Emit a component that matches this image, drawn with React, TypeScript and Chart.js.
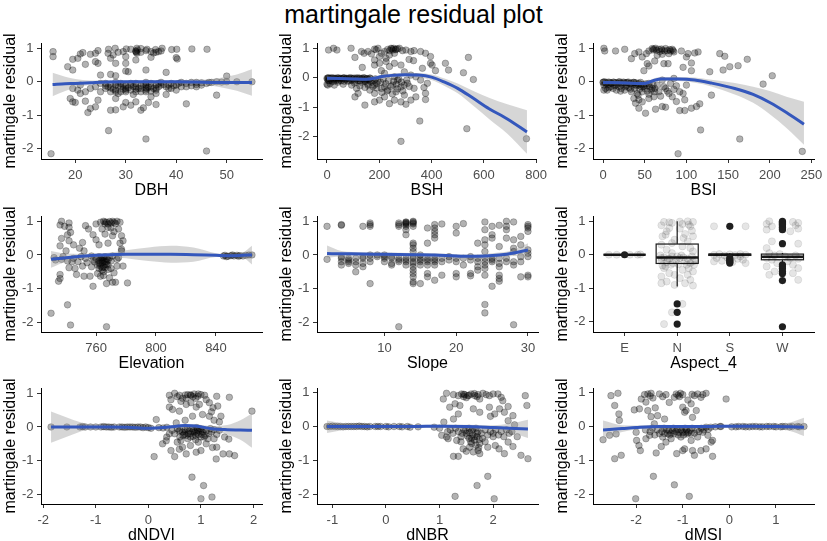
import React, { useEffect, useRef } from 'react';
import { Chart, registerables } from 'chart.js';

Chart.register(...registerables);

const FONT = '"Liberation Sans", Arial, Helvetica, sans-serif';
Chart.defaults.font.family = FONT;

type Pt = [number, number];
type Fit = [number, number, number, number]; // x, fit, lower, upper

const chartTitle = 'martingale residual plot';
const yTitle = 'martingale residual';
const yTicks = [-2, -1, 0, 1];

// ---------------- DBH ----------------
const dbhTicks = [20, 30, 40, 50];
const dbhPoints: Pt[] = [
  [15.6, 0.9], [15.6, 0.75], [15.2, -2.15],
  [26.6, 0.97], [27.9, 1.0], [30.1, 0.98], [31, 0.97], [32.2, 1.0], [33, 0.99], [34.2, 0.97], [35.9, 0.96], [37.2, 1.0], [39.1, 0.96], [40.1, 0.97], [43.1, 0.98], [46.1, 0.97],
  [21, 0.83], [21.5, 0.87], [23, 0.82], [24, 0.85], [24.5, 0.93], [26.5, 0.85], [27.5, 0.8], [28.5, 0.88], [32, 0.9], [32.2, 0.85], [33, 0.88], [35.5, 0.86], [36.5, 0.9], [34, 0.93], [29.5, 0.9], [37, 0.92],
  [32, 0.92], [32.1, 0.88], [32.3, 0.95], [36, 0.88], [35, 0.9],
  [19.5, 0.67], [20.5, 0.7], [24, 0.6], [27, 0.7], [28, 0.55], [30, 0.75], [32, 0.65], [35, 0.73], [40, 0.72], [40.2, 0.68], [24.5, 0.55], [30, 0.55],
  [18.5, 0.45], [19.5, 0.35], [22, 0.52], [25, 0.2], [27, 0.22], [28, 0.18], [30, 0.32], [30.5, 0.3], [34, 0.35], [38, 0.28], [50, 0.17],
  [19.5, -0.2], [20.5, -0.25], [21, -0.1], [22, -0.3], [23, -0.2], [24, -0.15], [25, -0.3], [26, -0.12], [26, -0.05], [27, -0.18], [27, -0.3], [28, -0.1], [28, -0.25], [28.5, -0.35], [29, -0.15], [29, -0.05], [30, -0.2], [30, -0.3], [31, -0.1], [31, -0.25], [31.5, -0.38], [32, -0.15], [32, -0.05], [33, -0.2], [33, -0.3], [34, -0.1], [34, -0.02], [34, -0.25], [35, -0.15], [35, -0.05], [36, -0.2], [36, -0.35], [37, -0.1], [37, -0.02], [38, -0.15], [38, -0.38], [39, -0.05], [39, -0.2], [40, -0.1], [41, -0.15], [41, -0.02], [42, -0.05], [43, -0.12], [43, -0.02], [44, -0.08], [45, -0.03], [46, -0.05], [47, -0.02], [48, 0], [52, 0], [55, 0], [44, -0.15], [40, -0.25], [36, -0.1], [33, -0.12], [30, -0.12], [29, -0.3], [27, -0.08], [26, -0.2], [25, -0.05], [32, -0.22], [34, -0.18], [35, -0.28], [36.5, -0.05], [38.5, -0.1], [31, -0.05], [29.5, -0.22], [28, -0.02], [42, -0.15], [45, -0.1],
  [26.5, -0.15], [27.5, -0.22], [28.5, -0.12], [29.5, -0.1], [30.5, -0.18], [31.5, -0.14], [32.5, -0.2], [33.5, -0.08], [34.5, -0.16], [35.5, -0.2], [36.5, -0.15], [37.5, -0.08], [38.5, -0.2], [39.5, -0.12], [34, -0.3], [34.2, -0.2], [30, -0.25], [32, -0.3], [28, -0.3], [36, -0.25], [40.5, -0.05], [44, -0.02], [46.5, -0.02], [49, -0.01], [50, 0],
  [19, -0.5], [19.5, -0.6], [20, -0.62], [21, -0.35], [22, -0.58], [22.5, -0.92], [24, -0.75], [24.5, -0.55], [23, -0.8], [27, -0.85], [28, -0.84], [28, -0.5], [29.5, -0.75], [30, -0.62], [31, -0.7], [32, -0.6], [33, -0.85], [33.5, -0.78], [34.5, -0.62], [35, -0.45], [36, -0.68], [42, -0.66], [48, -0.4], [26.6, -1.46], [34, -1.71], [46, -2.07],
];
const dbhSmooth: Fit[] = [
  [15.5, -0.08, -0.43, 0.27], [18, -0.06, -0.28, 0.15], [20, -0.05, -0.18, 0.08], [23, -0.03, -0.1, 0.04], [26, -0.01, -0.06, 0.04], [30, 0.0, -0.04, 0.04], [35, 0.0, -0.04, 0.04], [40, 0.0, -0.04, 0.04], [44, -0.01, -0.07, 0.05], [48, -0.02, -0.14, 0.1], [52, -0.02, -0.27, 0.22], [55, -0.02, -0.42, 0.37],
];

// ---------------- BSH ----------------
const bshTicks = [0, 200, 400, 600, 800];
const bshPoints: Pt[] = [
  [0, -0.02], [2, -0.05], [5, 0], [8, -0.1], [10, -0.03], [12, -0.2], [15, -0.05], [18, 0], [20, -0.12], [25, -0.04], [28, -0.25], [30, -0.02], [35, -0.08], [40, 0], [42, -0.15], [45, -0.05], [50, -0.02], [55, -0.1], [60, -0.03], [62, -0.22], [65, 0], [70, -0.06], [75, -0.02], [80, -0.12], [85, -0.04], [90, 0], [95, -0.08], [100, -0.03], [105, -0.18], [110, -0.05], [115, 0], [120, -0.1], [125, -0.03], [130, -0.15], [135, -0.05], [140, 0], [145, -0.12], [150, -0.04], [155, -0.2], [160, -0.06], [165, -0.02], [170, -0.15], [175, -0.3], [180, -0.1], [185, -0.04], [190, -0.2], [3, -0.25], [0, -0.22],
  [4, -0.01], [14, -0.02], [24, -0.01], [34, -0.03], [44, -0.01], [54, -0.02], [64, -0.01], [74, -0.03], [84, -0.01], [94, -0.02], [104, -0.01], [114, -0.03], [124, -0.01], [134, -0.02], [144, -0.01], [154, -0.03], [164, -0.01], [6, -0.1], [26, -0.12], [46, -0.1], [66, -0.12], [86, -0.1], [106, -0.12], [126, -0.1], [146, -0.12], [166, -0.1],
  [6, 0.94], [25, 1.0], [38, 0.94], [92, 1.0], [107, 0.69], [132, 0.89], [135, 0.35], [142, 0.83], [157, 0.89], [170, 0.81], [182, 0.97], [188, 0.95], [195, 1.0], [208, 0.83], [201, 0.72], [220, 0.89], [226, 0.66], [239, 0.77], [245, 1.0], [252, 0.94], [258, 0.83], [264, 0.97], [277, 1.0], [289, 0.92], [302, 0.94], [321, 0.89], [333, 0.92], [358, 0.89], [377, 0.83], [396, 0.72], [331, 0.58], [365, 0.32], [396, 0.49], [402, 0.43], [415, 0.24], [453, 0.49], [465, 0.26], [522, 0.17], [541, 0.69], [560, -0.06], [226, 0.55], [182, 0.6], [201, 0.49], [258, 0.49], [283, 0.43], [314, 0.62], [182, 0.43], [208, 0.24], [220, 0.15], [239, 0.38], [258, 0.03], [270, -0.08], [296, 0.2], [321, 0.09], [340, 0.03], [358, -0.08], [384, -0.19],
  [248, 0.98], [255, 1.0], [262, 0.95], [270, 0.98], [240, 0.92], [232, 0.96],
  [145, -0.93], [182, -0.82], [201, -0.76], [220, -0.65], [239, -0.88], [258, -0.76], [283, -0.82], [302, -0.9], [321, -0.76], [340, -0.65], [377, -0.74], [377, -0.53], [371, -0.33], [296, -0.59], [264, -0.48], [233, -0.42], [208, -0.36], [182, -0.53], [164, -0.42], [145, -0.33], [119, -0.53], [107, -0.65], [157, -0.25], [182, -0.25], [220, -0.31], [252, -0.25], [283, -0.31], [308, -0.19], [333, -0.36], [145, -0.08], [126, -0.28], [113, -0.36], [94, -0.25], [535, -1.73], [763, -2.07], [355, -1.47], [283, -2.16],
  [205, -0.15], [215, -0.05], [225, -0.2], [235, -0.1], [245, -0.3], [255, -0.12], [265, -0.22], [275, -0.05], [285, -0.15], [295, -0.25], [305, -0.08], [315, -0.3], [230, -0.45], [250, -0.55], [270, -0.38], [290, -0.45], [210, -0.5], [195, -0.12], [190, -0.35],
];
const bshSmooth: Fit[] = [
  [0, -0.02, -0.09, 0.05], [50, -0.03, -0.08, 0.02], [100, -0.04, -0.09, 0.01], [150, -0.05, -0.1, 0.0], [180, -0.02, -0.08, 0.04], [210, 0.04, -0.02, 0.1], [250, 0.08, 0.02, 0.14], [300, 0.1, 0.04, 0.16], [350, 0.09, 0.01, 0.16], [400, 0.02, -0.08, 0.11], [450, -0.15, -0.28, -0.03], [500, -0.36, -0.53, -0.2], [560, -0.7, -0.95, -0.45], [620, -1.05, -1.4, -0.68], [690, -1.4, -1.9, -0.9], [765, -1.84, -2.58, -1.1],
];

// ---------------- BSI ----------------
const bsiTicks = [0, 50, 100, 150, 200, 250];
const bsiPoints: Pt[] = [
  [0, -0.02], [1, -0.1], [2, 0], [3, -0.2], [4, -0.05], [5, -0.25], [6, -0.08], [8, -0.02], [9, -0.15], [10, -0.05], [12, -0.2], [13, -0.02], [15, -0.1], [16, -0.25], [18, -0.05], [19, -0.15], [20, 0], [22, -0.2], [23, -0.08], [25, -0.03], [26, -0.25], [28, -0.12], [29, -0.02], [31, -0.18], [32, -0.06], [34, -0.3], [35, -0.1], [37, -0.02], [38, -0.2], [40, -0.12], [41, -0.35], [43, -0.05], [44, -0.22], [46, -0.15], [47, -0.3], [49, -0.08], [50, -0.2], [52, -0.12], [53, -0.28], [55, -0.05], [56, -0.15], [58, -0.25], [60, -0.1], [62, -0.2], [1, -0.25], [7, -0.18], [14, -0.12], [21, -0.28], [27, -0.15], [33, -0.22], [39, -0.08], [45, -0.02],
  [0.5, -0.01], [3.5, -0.03], [6.5, -0.01], [9.5, -0.04], [12.5, -0.01], [15.5, -0.03], [18.5, -0.01], [21.5, -0.04], [24.5, -0.01], [27.5, -0.03], [30.5, -0.01], [33.5, -0.04], [36.5, -0.02], [39.5, -0.03], [42.5, -0.1], [45.5, -0.08], [48.5, -0.14], [51.5, -0.06],
  [1, 1.0], [2, 0.92], [15, 0.92], [26, 0.97], [34, 0.69], [38, 0.84], [43, 0.89], [47, 0.74], [52, 0.84], [55, 0.92], [59, 0.99], [63, 1.0], [67, 0.97], [71, 0.94], [75, 0.99], [81, 0.92], [85, 0.89], [79, 0.84], [71, 0.82], [65, 0.79], [53, 0.54], [49, 0.33], [55, 0.47], [62, 0.62], [73, 0.54], [78, 0.54], [94, 0.92], [100, 0.74], [102, 0.84], [106, 0.56], [110, 0.86], [114, 0.89], [96, 0.43], [106, 0.33], [128, 0.3], [140, 0.84], [144, 0.35], [146, 0.76], [152, 0.45], [162, 0.48], [173, 0.67], [192, -0.07], [203, 0.18], [60, 0.95], [68, 0.9], [77, 0.93], [83, 0.97],
  [61, 0.98], [64, 0.94], [70, 0.98], [74, 0.92], [80, 0.96], [84, 0.93],
  [130, -0.4], [116, -0.66], [117, -1.44], [164, -1.71], [90, -2.15], [239, -2.08], [51, -0.94], [43, -0.54], [47, -0.6], [55, -0.5], [63, -0.82], [71, -0.74], [75, -0.76], [83, -0.45], [88, -0.59], [92, -0.86], [98, -0.86], [98, -0.54], [106, -0.79], [112, -0.74], [92, -0.3], [85, -0.23], [75, -0.2], [67, -0.3], [59, -0.2], [55, -0.37], [61, -0.45], [69, -0.43], [79, -0.35], [96, -0.35], [100, -0.1], [85, 0.1], [71, 0.05], [37, -0.5], [39, -0.64], [43, -0.79], [42, -0.4], [65, -0.1], [73, -0.15], [81, -0.05], [88, -0.12], [62, -0.3], [77, -0.28],
];
const bsiSmooth: Fit[] = [
  [0, -0.02, -0.08, 0.04], [20, -0.03, -0.08, 0.02], [40, -0.05, -0.1, 0.0], [50, -0.05, -0.11, 0.01], [60, 0.03, -0.03, 0.09], [70, 0.08, 0.02, 0.14], [90, 0.08, 0.02, 0.14], [110, 0.05, -0.03, 0.13], [130, -0.04, -0.14, 0.06], [158, -0.2, -0.38, -0.04], [180, -0.38, -0.63, -0.15], [200, -0.62, -0.97, -0.28], [220, -0.92, -1.38, -0.45], [241, -1.27, -1.88, -0.6],
];

// ---------------- Elevation ----------------
const elevTicks = [760, 800, 840];
const elevPoints: Pt[] = [
  [730, -1.73], [737, 1.0], [736, 0.89], [737, 0.49], [736, 0.27], [736, -0.58], [735, -0.78], [736, -0.7], [737, -0.13], [732, -0.08], [740, 0.12], [742, 0.95], [742, 0.82], [743, 0.67], [742, 0.42], [741, -0.18], [742, -0.38], [741, -1.48], [743, -2.08], [747, -0.58], [751, 0.37], [751, -0.33], [752, -0.63], [753, 0.87], [755, 0.77], [756, -0.63], [758, -0.93], [754, -0.23], [757, -0.03], [760, 0.92], [763, 0.97], [764, 0.77], [765, 1.0], [766, 0.92], [767, 0.97], [768, 0.82], [769, 0.99], [771, 1.0], [772, 0.97], [774, 1.0], [776, 0.97], [775, 0.77], [772, 0.69], [771, 0.57], [777, 0.57], [778, 0.42], [776, 0.35], [777, 0.17], [774, -0.33], [772, -0.53], [769, -0.68], [767, -0.85], [765, -0.61], [763, -0.63], [761, -0.55], [764, -0.38], [767, -0.28], [770, -0.18], [762, -0.18], [764, -0.08], [759, -0.21], [768, -0.43], [771, -0.03], [774, -0.13], [777, 0.12], [775, -0.08], [778, -0.33], [781, -0.83], [773, -0.81], [771, -0.81], [767, -2.13], [770, 0.8],
  [760, -0.1], [761, -0.3], [762, -0.05], [763, -0.25], [764, -0.15], [765, -0.35], [766, -0.05], [766, -0.2], [767, -0.12], [768, -0.3], [769, -0.08], [770, -0.4], [762, -0.4], [765, -0.5], [758, -0.15], [757, -0.35], [745, -0.1], [748, -0.2], [750, -0.05], [753, -0.1], [749, 0.2], [752, 0.12], [745, 0.3], [739, 0.85], [741, 0.6], [744, -0.2], [746, -0.4], [733, -0.15], [738, -0.05], [762, 0.3], [768, 0.35], [758, 0.6], [766, 0.62], [760, 0.45],
  [763, -0.12], [764, -0.22], [765, -0.18], [766, -0.28], [767, -0.2], [768, -0.15], [765, -0.08], [763, -0.33], [764, -0.45], [766, -0.38], [762, -0.25], [768, 0.92], [770, 0.95], [766, 0.98], [773, 0.93],
  [845, -0.03], [846, -0.01], [848, -0.04], [850, -0.02], [852, -0.03], [854, -0.01], [856, -0.02], [858, -0.03], [860, -0.01], [862, 0], [864, 0], [847, -0.05], [851, 0.0], [855, -0.04],
];
const elevSmooth: Fit[] = [
  [730, -0.13, -0.38, 0.12], [740, -0.08, -0.2, 0.04], [750, -0.04, -0.1, 0.03], [760, -0.01, -0.06, 0.04], [770, 0.01, -0.05, 0.07], [780, 0.02, -0.1, 0.14], [795, 0.02, -0.18, 0.22], [810, 0.02, -0.23, 0.27], [825, 0.01, -0.2, 0.22], [840, -0.01, -0.06, 0.05], [850, -0.02, -0.05, 0.02], [858, -0.01, -0.08, 0.07], [864, 0.0, -0.28, 0.27],
];

// ---------------- Slope ----------------
const slopeTicks = [10, 20, 30];
const slopePoints: Pt[] = [
  [2, 0.85], [2, -0.13], [4, 0.9], [4, 0.88], [4, -0.1], [4, -0.2], [4, -0.3], [4, -0.05], [5, -0.1], [5, -0.2], [5, -0.15], [5, -0.25], [6, -0.1], [6, -0.2], [6, -0.5], [6, -0.3], [7, 0.85], [7, -0.1], [7, -0.25], [7, -0.35], [7, -0.05], [8, 0.95], [8, 0.9], [8, 0.85], [8, -0.1], [8, -0.2], [8, -0.85], [8, 0], [9, 0], [9, -0.05], [10, 0], [10, -0.1], [10, -0.2], [11, -0.05], [11, -0.1], [11, -0.3], [11, -0.25], [12, 0.95], [12, 0.9], [12, 0.85], [12, -0.1], [12, -0.2], [12, -2.13], [13, 0.98], [13, 0.95], [13, 0.9], [13, 0.85], [13, 0.75], [13, 0.6], [13, -0.1], [13, -0.2], [13, -0.3], [14, 1.0], [14, 0.95], [14, 0.85], [14, 0.35], [14, 0.3], [14, 0.2], [14, 0.1], [14, -0.05], [14, -0.2], [14, -0.35], [14, -0.45], [14, -0.55], [14, -0.65], [14, -0.8], [14, -0.85], [15, 0], [15, -0.1], [15, -0.2], [15, -0.3], [15, -0.85], [16, 0.8], [16, 0.35], [16, -0.1], [16, -0.2], [16, -0.3], [16, -0.55], [16, -0.65], [17, 0.9], [17, 0.8], [17, 0.7], [17, 0.6], [17, 0.5], [17, -0.1], [17, -0.2], [17, -0.3], [17, -0.75], [18, 0.92], [18, -0.1], [18, -0.2], [18, -0.6], [19, -0.05], [19, -0.15], [20, 0.85], [20, 0.65], [20, -0.1], [20, -0.2], [20, -0.55], [20, -0.65], [21, 0.93], [21, -0.3], [21, -0.1], [22, -0.05], [22, -0.15], [22, -0.55], [22, -0.62], [23, 0.35], [23, -0.1], [23, -0.2], [23, -0.35], [23, -0.45], [24, 0.98], [24, 0.75], [24, 0.45], [24, 0.1], [24, -0.1], [24, -0.2], [24, -0.3], [24, -0.6], [24, -1.47], [24, -1.72], [24, 0.3], [24, -0.4], [25, 0.85], [25, 0.6], [25, 0.5], [25, -0.1], [25, -0.2], [25, -0.93], [25, -0.15], [26, 0.88], [26, 0.25], [26, -0.1], [26, -0.25], [26, -0.35], [26, -0.6], [26, -0.7], [26, -0.78], [27, 1.0], [27, 0.85], [27, 0.75], [27, 0.5], [27, -0.1], [27, -0.2], [28, 0.98], [28, 0.45], [28, 0.1], [28, -0.2], [28, -0.3], [28, -2.07], [28, 0.2], [29, 0.55], [29, 0.3], [29, -0.05], [29, -0.2], [29, -0.65], [30, 0.9], [30, 0.85], [30, 0.8], [30, 0.7], [30, 0.15], [30, 0.05], [30, -0.05], [30, -0.6], [30, -0.65],
  [13, 0.93], [13, 0.97], [14, 0.98], [14, 0.92], [13, -0.15], [14, -0.1], [14, -0.25], [16, -0.15], [17, -0.15], [12, -0.15], [10, -0.05], [15, -0.15],
];
const slopeSmooth: Fit[] = [
  [2, 0.04, -0.09, 0.28], [4, 0.035, -0.04, 0.12], [7, 0.03, -0.02, 0.08], [10, 0.02, -0.03, 0.07], [14, 0.01, -0.04, 0.06], [17, 0.0, -0.05, 0.05], [20, -0.03, -0.08, 0.02], [22, -0.04, -0.1, 0.01], [24, -0.03, -0.09, 0.03], [26, 0.0, -0.07, 0.07], [28, 0.06, -0.03, 0.15], [30, 0.15, -0.05, 0.35],
];

// ---------------- Aspect_4 (box plot) ----------------
const aspectCats = ['E', 'N', 'S', 'W'];
const aspectQ1 = [0, -0.26, -0.02, -0.15];
const aspectMedian = [0, -0.08, 0, -0.06];
const aspectQ3 = [0, 0.32, 0.02, 0.02];
const aspectLow = [0, -0.95, -0.05, -0.27];
const aspectHigh = [0, 1.0, 0.05, 0.05];
const aspectJitterE: Pt[] = [[-0.3, 0], [-0.15, 0], [0.1, 0], [0.25, 0], [0.3, 0.01]];
const aspectJitterN: Pt[] = [
  [-0.25, 0.98], [-0.1, 0.95], [0.2, 1.0], [0.3, 0.98], [0.1, 0.92], [-0.3, 0.88], [0.25, 0.85], [-0.15, 0.8], [0.05, 0.78], [0.28, 0.72], [-0.2, 0.7], [0.15, 0.62], [-0.28, 0.55], [0.3, 0.55], [-0.05, 0.45], [0.2, 0.4], [-0.3, 0.3], [0.1, 0.25], [-0.2, 0.15], [0.3, 0.1], [-0.1, 0.05],
  [-0.32, -0.02], [-0.25, -0.08], [-0.18, -0.12], [-0.1, -0.05], [-0.02, -0.15], [0.05, -0.1], [0.12, -0.08], [0.2, -0.12], [0.28, -0.05], [0.34, -0.15], [-0.3, -0.18], [-0.2, -0.22], [-0.08, -0.25], [0.02, -0.28], [0.15, -0.2], [0.25, -0.25], [0.32, -0.3], [-0.12, -0.3], [0.08, -0.02], [-0.28, -0.32],
  [-0.25, -0.4], [0.1, -0.45], [0.3, -0.5], [-0.15, -0.55], [0.2, -0.6], [-0.3, -0.65], [0.05, -0.7], [0.25, -0.75], [-0.2, -0.8], [0.15, -0.85], [-0.05, -0.9], [0.3, -0.92], [-0.22, -0.35],
  [-0.15, 0.97], [0.05, 0.99], [0.22, 0.9], [-0.22, 0.6], [0.12, 0.5], [-0.1, 0.35], [0.25, 0.2], [-0.3, -0.1], [0.0, -0.05], [0.18, -0.3], [-0.15, -0.12], [0.3, -0.2], [-0.05, -0.6], [0.22, -0.4], [-0.3, -0.85],
  [-0.25, -2.07], [-0.1, -1.72], [0.1, -1.47],
];
const aspectJitterS: Pt[] = [
  [-0.3, 0.85], [0.3, 0.85], [-0.3, 0], [-0.2, 0.02], [-0.1, -0.02], [0, 0.01], [0.1, -0.01], [0.2, 0.02], [0.3, 0], [-0.25, -0.1], [0.25, -0.15], [-0.15, -0.18], [0.15, -0.12], [-0.3, -0.2], [0.3, -0.25], [0.05, -0.22], [-0.05, -0.08], [0.2, -0.05],
];
const aspectJitterW: Pt[] = [
  [-0.25, 1.0], [0.2, 0.98], [0.3, 0.95], [-0.3, 0.92], [0.25, 0.88], [-0.2, 0.85], [0.3, 0.78], [-0.3, 0.75], [0.15, 0.7], [-0.3, 0.2], [-0.25, 0.05], [-0.15, -0.02], [-0.05, 0.02], [0.05, -0.05], [0.15, -0.1], [0.25, -0.02], [0.3, -0.12], [-0.3, -0.1], [-0.2, -0.15], [0.1, -0.2], [-0.1, -0.25], [0.2, -0.3], [-0.3, -0.35], [0.3, -0.4], [-0.15, -0.5], [0.2, -0.55], [-0.25, -0.6], [0.3, -0.75], [-0.2, 0.4], [0.3, 0.33],
];
const aspectOutE = [0];
const aspectOutN = [-1.47, -1.72, -2.07];
const aspectOutS = [0.85, -0.1, -0.14, -0.18, -0.22, -0.25];
const aspectOutW = [1.0, 0.97, 0.93, 0.9, 0.86, 0.82, 0.78, 0.75, 0.33, -0.3, -0.36, -0.42, -0.5, -0.56, -0.77, -2.15];

// ---------------- dNDVI ----------------
const ndviTicks = [-2, -1, 0, 1, 2];
const ndviPoints: Pt[] = [
  [-1.85, 0], [-1.55, 0], [-1.3, 0], [-1.25, 0.01], [-1.2, 0], [-1.1, 0], [-1.0, 0], [-0.9, 0], [-0.85, 0.01], [-0.8, 0], [-0.75, 0], [-0.7, -0.01], [-0.65, 0], [-0.55, 0], [-0.5, 0], [-0.45, -0.01], [-0.4, 0], [-0.35, 0], [-0.3, 0], [-0.25, -0.01], [-0.2, 0], [-0.15, 0], [-0.1, -0.02], [-0.05, 0], [0, -0.02], [0.05, -0.04], [0.15, 0.22], [0.2, -0.02], [0.28, -0.03], [0.35, -0.01],
  [0.4, 0.94], [0.43, 0.81], [0.5, 1.0], [0.55, 0.9], [0.59, 0.94], [0.62, 0.76], [0.72, 0.86], [0.75, 0.96], [0.81, 0.94], [0.87, 0.98], [0.94, 0.91], [1.0, 0.96], [1.07, 0.94], [0.72, 0.67], [0.81, 0.72], [0.91, 0.59], [0.97, 0.67], [1.1, 0.81], [1.16, 0.72], [1.23, 0.57], [1.3, 0.91], [1.32, 0.62], [1.54, 0.88], [1.38, 0.32], [1.16, 0.32], [1.03, 0.37], [0.46, 0.52], [0.59, 0.47], [0.84, 0.32], [0.4, 0.59], [1.97, 0.47], [0.65, 0.85], [0.9, 0.85], [1.2, 0.45], [1.35, 0.15], [1.25, 0.2], [0.53, 0.12], [0.7, 0.2], [1.45, -0.3], [0.8, 0.95],
  [0.11, -0.88], [0.5, -0.88], [0.72, -0.8], [0.59, -0.66], [0.91, -0.75], [1.0, -0.7], [1.22, -0.61], [1.29, -0.95], [1.42, -0.8], [1.53, -0.36], [1.64, -0.85], [1.54, -0.8], [0.83, -1.49], [1.05, -1.74], [1.0, -2.13], [1.21, -2.08], [0.34, -0.41], [0.43, -0.7], [0.27, -0.5], [0.65, -0.6], [0.8, -0.55], [1.1, -0.5], [1.25, -0.35], [0.95, -0.45], [0.55, -0.45], [1.3, -0.6],
  [0.45, -0.1], [0.5, -0.2], [0.55, -0.05], [0.6, -0.3], [0.65, -0.15], [0.7, -0.08], [0.72, -0.25], [0.75, -0.35], [0.78, -0.12], [0.8, -0.2], [0.83, -0.05], [0.85, -0.28], [0.88, -0.15], [0.9, -0.38], [0.93, -0.1], [0.95, -0.22], [0.98, -0.05], [1.0, -0.3], [1.03, -0.15], [1.05, -0.08], [1.08, -0.25], [1.1, -0.12], [1.13, -0.35], [1.15, -0.2], [1.18, -0.05], [1.2, -0.15], [1.25, -0.08], [1.3, -0.22], [0.62, -0.4], [0.68, -0.22], [0.58, -0.12], [0.92, -0.02], [1.35, -0.1], [0.4, -0.2], [0.35, -0.3],
  [0.6, -0.1], [0.66, -0.25], [0.7, -0.15], [0.74, -0.05], [0.76, -0.2], [0.8, -0.3], [0.84, -0.15], [0.86, -0.1], [0.9, -0.25], [0.92, -0.18], [0.96, -0.12], [1.0, -0.1], [1.02, -0.22], [1.06, -0.3], [0.7, 0.95], [0.85, 0.9], [0.95, 0.98],
];
const ndviSmooth: Fit[] = [
  [-1.85, 0.0, -0.47, 0.46], [-1.5, 0.0, -0.26, 0.25], [-1.2, 0.0, -0.1, 0.1], [-0.8, 0.0, -0.05, 0.05], [-0.4, -0.01, -0.05, 0.03], [0, -0.04, -0.08, 0.0], [0.15, -0.03, -0.07, 0.01], [0.4, 0.0, -0.04, 0.05], [0.7, 0.04, 0.0, 0.09], [0.9, 0.03, -0.01, 0.08], [1.2, -0.05, -0.12, 0.03], [1.5, -0.08, -0.22, 0.06], [1.75, -0.09, -0.38, 0.2], [1.97, -0.1, -0.62, 0.4],
];

// ---------------- dNBR ----------------
const nbrTicks = [-1, 0, 1, 2];
const nbrPoints: Pt[] = [
  [-1.1, 0], [-1.05, 0], [-1.0, 0.01], [-0.95, 0], [-0.9, 0], [-0.85, 0], [-0.8, -0.01], [-0.75, 0], [-0.7, 0], [-0.65, 0], [-0.6, 0], [-0.55, 0], [-0.5, 0.01], [-0.45, 0], [-0.4, 0], [-0.35, -0.01], [-0.3, 0], [-0.2, 0], [-0.15, 0], [-0.1, 0], [0, 0], [0.05, -0.01], [0.15, 0], [0.25, 0], [0.3, -0.01], [0.4, 0], [0.45, -0.02], [0.6, -0.01], [0.9, -0.02], [1.0, -0.05],
  [1.07, 0.81], [1.13, 0.98], [1.26, 0.94], [1.29, 0.67], [1.35, 0.91], [1.41, 0.96], [1.47, 0.94], [1.53, 0.91], [1.59, 0.96], [1.66, 0.91], [1.72, 0.94], [1.75, 0.81], [1.81, 0.98], [1.87, 0.94], [1.93, 0.91], [2.0, 0.96], [2.09, 0.96], [2.15, 0.86], [2.18, 0.76], [2.28, 0.59], [2.6, 0.91], [2.63, 0.62], [1.19, 0.57], [1.38, 0.62], [1.63, 0.52], [1.75, 0.42], [1.93, 0.57], [2.03, 0.37], [2.12, 0.52], [2.21, 0.42], [2.37, 0.32], [2.28, 0.17], [1.26, 0.22], [1.08, 0.13], [1.35, 0.37], [1.5, 0.85], [1.45, 0.88], [1.7, 0.88], [1.95, 0.3], [2.4, 0.05],
  [1.16, -0.36], [1.32, -0.41], [1.44, -0.66], [1.56, -0.61], [1.63, -0.75], [1.72, -0.71], [1.75, -0.8], [1.35, -0.88], [1.26, -0.88], [1.5, -0.73], [1.9, -0.61], [2.04, -0.56], [2.11, -0.66], [2.21, -0.8], [2.28, -0.46], [2.37, -0.59], [2.52, -0.85], [2.65, -0.95], [1.7, -1.74], [1.9, -1.47], [1.29, -2.06], [2.02, -2.13], [1.04, -0.26], [1.13, -0.31], [2.45, -0.3], [2.3, -0.2], [2.0, -0.3], [1.85, -0.45], [1.6, -0.5],
  [1.2, -0.1], [1.25, -0.2], [1.3, -0.05], [1.35, -0.15], [1.4, -0.3], [1.45, -0.1], [1.5, -0.2], [1.55, -0.35], [1.6, -0.12], [1.62, -0.25], [1.65, -0.4], [1.68, -0.05], [1.7, -0.3], [1.72, -0.15], [1.75, -0.5], [1.78, -0.2], [1.8, -0.35], [1.85, -0.1], [1.9, -0.25], [1.95, -0.15], [2.0, -0.2], [2.05, -0.1], [2.1, -0.25], [2.15, -0.15], [2.2, -0.3], [1.58, -0.45], [1.68, -0.55], [1.73, -0.62], [1.15, -0.15], [1.4, -0.45], [2.25, -0.1], [2.35, -0.15],
  [1.42, -0.2], [1.48, -0.12], [1.52, -0.28], [1.56, -0.18], [1.62, -0.08], [1.66, -0.3], [1.7, -0.2], [1.74, -0.38], [1.6, -0.35], [1.55, -0.05], [1.45, 0.95], [1.55, 0.92], [1.65, 0.97],
];
const nbrSmooth: Fit[] = [
  [-1.1, 0.0, -0.19, 0.18], [-0.8, 0.0, -0.1, 0.1], [-0.4, 0.0, -0.05, 0.05], [0, 0.0, -0.04, 0.04], [0.5, 0.0, -0.04, 0.05], [1.0, 0.01, -0.04, 0.06], [1.5, 0.0, -0.05, 0.05], [2.0, -0.03, -0.09, 0.04], [2.3, -0.05, -0.16, 0.08], [2.65, -0.07, -0.34, 0.2],
];

// ---------------- dMSI ----------------
const msiTicks = [-2, -1, 0, 1];
const msiPoints: Pt[] = [
  [-2.71, -0.39], [-2.57, -0.26], [-2.54, 0.91], [-2.46, 0.62], [-2.39, 0.98], [-2.37, 0.37], [-2.36, 0.18], [-2.32, -0.85], [-2.46, -0.95], [-2.43, -0.22], [-2.04, 0.49], [-2.01, -2.13], [-1.99, -0.41], [-2.0, -0.17], [-1.94, -0.56], [-1.91, -0.71], [-1.93, 0.52], [-1.89, 0.81], [-1.82, 0.94], [-1.79, 0.72], [-1.75, 0.96], [-1.68, 0.98], [-1.64, 0.84], [-1.59, 0.55], [-1.75, 0.47], [-1.68, 0.29], [-1.54, 0.32], [-1.5, 0.96], [-1.43, 0.88], [-1.36, 0.94], [-1.29, 0.71], [-1.39, 0.22], [-1.61, 0.08], [-1.57, -0.78], [-1.46, -0.59], [-1.63, -1.47], [-1.18, -1.72], [-0.86, -2.06], [-1.18, 0.86], [-1.14, 0.96], [-1.07, 0.88], [-1.0, 0.94], [-0.93, 0.47], [-0.89, 0.78], [-0.82, 0.67], [-0.75, 0.91], [-0.68, 0.96], [-0.61, 0.86], [-0.57, 0.94], [-0.5, 0.98], [-1.0, 0.57], [-0.96, 0.42], [-0.79, 0.27], [-1.13, -0.8], [-1.0, -0.71], [-0.96, -0.66], [-0.79, -0.71], [-0.75, -0.85], [-0.61, -0.71], [-0.5, -0.66], [-0.39, -0.46], [-0.36, -0.88], [-0.36, -0.41], [-0.07, 0.81], [-0.71, 0.47], [-1.32, -0.21], [-1.43, -0.31], [-1.36, -0.46], [-1.5, -0.21], [-1.71, -0.26], [-1.79, -0.36], [-1.25, -0.36], [-1.18, -0.21], [-1.04, -0.31], [-0.93, -0.17], [-0.82, -0.41], [-0.68, -0.31], [-0.57, -0.17], [-0.46, -0.26], [-1.39, -0.21],
  [-1.8, -0.1], [-1.7, -0.15], [-1.65, -0.05], [-1.6, -0.25], [-1.55, -0.1], [-1.45, -0.15], [-1.4, -0.05], [-1.3, -0.12], [-1.25, -0.2], [-1.2, -0.05], [-1.15, -0.15], [-1.1, -0.25], [-1.05, -0.1], [-1.0, -0.18], [-0.95, -0.05], [-0.9, -0.22], [-0.85, -0.12], [-0.8, -0.05], [-0.75, -0.2], [-0.7, -0.1], [-0.65, -0.15], [-0.6, -0.05], [-0.55, -0.1], [-0.5, -0.02], [-0.45, -0.08], [-0.4, -0.02], [-0.3, -0.01], [-0.2, 0],
  [-1.12, -0.08], [-1.08, -0.18], [-1.02, -0.12], [-0.98, -0.25], [-0.92, -0.1], [-0.88, -0.18], [-1.22, -0.12], [-1.28, -0.25], [-1.35, -0.1], [-0.82, -0.2], [-1.1, 0.92], [-1.05, 0.98], [-0.8, 0.95], [-1.7, 0.9],
  [-0.18, 0], [0.14, -0.01], [0.29, 0], [0.43, -0.01], [0.57, 0], [0.71, -0.01], [0.86, 0], [1.0, -0.01], [1.14, 0], [1.29, -0.01], [1.46, 0], [1.6, 0], [0.05, -0.01], [0.2, 0.0], [0.35, -0.01], [0.5, 0], [0.65, -0.01], [0.8, 0.0], [0.95, 0], [1.1, -0.01], [1.2, 0], [1.35, 0], [1.5, -0.01],
];
const msiSmooth: Fit[] = [
  [-2.71, -0.1, -0.32, 0.18], [-2.3, -0.06, -0.16, 0.04], [-2.0, -0.03, -0.09, 0.03], [-1.5, 0.0, -0.05, 0.05], [-1.0, 0.0, -0.05, 0.04], [-0.5, 0.0, -0.04, 0.04], [0, 0.01, -0.03, 0.05], [0.5, 0.01, -0.03, 0.05], [1.0, 0.0, -0.06, 0.06], [1.3, -0.01, -0.13, 0.12], [1.6, -0.02, -0.28, 0.26],
];

// ---------------- styling / layout ----------------
const LINE_COLOR = '#3457BC';
const BAND_COLOR = 'rgba(153,153,153,0.4)';
const POINT_COLOR = 'rgba(0,0,0,0.3)';
const JITTER_COLOR = 'rgba(0,0,0,0.1)';
const OUTLIER_COLOR = '#1f1f1f';
const TICK_TEXT = '#4D4D4D';

const CW = 276;
const CH = 172;
const PAD_TOP = 13;
const PLOT_H = 116;
const Y_AXIS_W = 41;
const PAD_RIGHT = 14;
const COL_LEFTS = [0, 276, 552];
const ROW_TOPS = [30, 203, 375];
const BOX_HALF = 0.4;

interface PanelSpec {
  key: string;
  title: string;
  pts: Pt[];
  fit?: Fit[];
  xTicks: number[];
  aspect?: boolean;
}

const panels: PanelSpec[] = [
  { key: 'dbh', title: 'DBH', pts: dbhPoints, fit: dbhSmooth, xTicks: dbhTicks },
  { key: 'bsh', title: 'BSH', pts: bshPoints, fit: bshSmooth, xTicks: bshTicks },
  { key: 'bsi', title: 'BSI', pts: bsiPoints, fit: bsiSmooth, xTicks: bsiTicks },
  { key: 'elev', title: 'Elevation', pts: elevPoints, fit: elevSmooth, xTicks: elevTicks },
  { key: 'slope', title: 'Slope', pts: slopePoints, fit: slopeSmooth, xTicks: slopeTicks },
  { key: 'aspect', title: 'Aspect_4', pts: [], xTicks: [1, 2, 3, 4], aspect: true },
  { key: 'ndvi', title: 'dNDVI', pts: ndviPoints, fit: ndviSmooth, xTicks: ndviTicks },
  { key: 'nbr', title: 'dNBR', pts: nbrPoints, fit: nbrSmooth, xTicks: nbrTicks },
  { key: 'msi', title: 'dMSI', pts: msiPoints, fit: msiSmooth, xTicks: msiTicks },
];

function expand(vals: number[]): [number, number] {
  const mn = Math.min(...vals);
  const mx = Math.max(...vals);
  const d = (mx - mn) * 0.05;
  return [mn - d, mx + d];
}

const boxPlugin = {
  id: 'aspectBoxes',
  beforeDatasetsDraw(chart: any) {
    const { ctx, scales } = chart;
    const xs = scales.x;
    const ys = scales.y;
    ctx.save();
    aspectCats.forEach((_c, i) => {
      const cx = i + 1;
      const l = xs.getPixelForValue(cx - BOX_HALF);
      const r = xs.getPixelForValue(cx + BOX_HALF);
      const pc = xs.getPixelForValue(cx);
      const yq1 = ys.getPixelForValue(aspectQ1[i]);
      const yq3 = ys.getPixelForValue(aspectQ3[i]);
      const ymed = ys.getPixelForValue(aspectMedian[i]);
      const ylo = ys.getPixelForValue(aspectLow[i]);
      const yhi = ys.getPixelForValue(aspectHigh[i]);
      ctx.strokeStyle = '#1a1a1a';
      ctx.lineWidth = 1.2;
      ctx.beginPath();
      ctx.moveTo(pc, yhi);
      ctx.lineTo(pc, yq3);
      ctx.moveTo(pc, yq1);
      ctx.lineTo(pc, ylo);
      ctx.stroke();
      ctx.fillStyle = '#ffffff';
      ctx.fillRect(l, yq3, r - l, yq1 - yq3);
      ctx.strokeRect(l, yq3, r - l, yq1 - yq3);
      ctx.lineWidth = 2.6;
      ctx.beginPath();
      ctx.moveTo(l, ymed);
      ctx.lineTo(r, ymed);
      ctx.stroke();
    });
    ctx.restore();
  },
};

function buildConfig(spec: PanelSpec): any {
  const datasets: any[] = [];
  let allX: number[] = [];
  let allY: number[] = [];
  const plugins: any[] = [];
  let xMin: number;
  let xMax: number;

  if (spec.aspect) {
    const jit = [aspectJitterE, aspectJitterN, aspectJitterS, aspectJitterW];
    const outs = [aspectOutE, aspectOutN, aspectOutS, aspectOutW];
    const jitPts: any[] = [];
    jit.forEach((arr, i) => arr.forEach(p => jitPts.push({ x: i + 1 + p[0], y: p[1] })));
    const outPts: any[] = [];
    outs.forEach((arr, i) => arr.forEach(v => outPts.push({ x: i + 1, y: v })));
    allY = [...jitPts.map(p => p.y), ...outPts.map(p => p.y), ...aspectLow, ...aspectHigh];
    datasets.push({ label: 'outliers', data: outPts, showLine: false, pointRadius: 3.6, pointBackgroundColor: OUTLIER_COLOR, pointBorderColor: OUTLIER_COLOR, pointBorderWidth: 0, order: 0 });
    datasets.push({ label: 'jitter', data: jitPts, showLine: false, pointRadius: 3.6, pointBackgroundColor: JITTER_COLOR, pointBorderColor: JITTER_COLOR, pointBorderWidth: 0.8, order: 1 });
    plugins.push(boxPlugin);
    xMin = 0.4;
    xMax = aspectCats.length + 0.6;
  } else {
    allX = spec.pts.map(p => p[0]);
    allY = spec.pts.map(p => p[1]);
    if (spec.fit) {
      const f = spec.fit;
      f.forEach(r => { allX.push(r[0]); allY.push(r[2], r[3]); });
      datasets.push({ label: 'fit', data: f.map(r => ({ x: r[0], y: r[1] })), borderColor: LINE_COLOR, borderWidth: 3, pointRadius: 0, fill: false, cubicInterpolationMode: 'monotone', order: 0 });
      datasets.push({ label: 'upper', data: f.map(r => ({ x: r[0], y: r[3] })), borderColor: 'rgba(0,0,0,0)', borderWidth: 0, pointRadius: 0, fill: '+1', backgroundColor: BAND_COLOR, cubicInterpolationMode: 'monotone', order: 1 });
      datasets.push({ label: 'lower', data: f.map(r => ({ x: r[0], y: r[2] })), borderColor: 'rgba(0,0,0,0)', borderWidth: 0, pointRadius: 0, fill: false, cubicInterpolationMode: 'monotone', order: 1 });
    }
    datasets.push({ label: 'points', data: spec.pts.map(p => ({ x: p[0], y: p[1] })), showLine: false, pointRadius: 3.3, pointBackgroundColor: POINT_COLOR, pointBorderColor: POINT_COLOR, pointBorderWidth: 0.8, order: 2 });
    [xMin, xMax] = expand(allX);
  }
  const [yMin, yMax] = expand(allY);

  const tickFont = { family: FONT, size: 13 };
  const titleFont = { family: FONT, size: 16 };

  return {
    type: 'line',
    data: { datasets },
    plugins,
    options: {
      responsive: false,
      animation: false,
      devicePixelRatio: 1,
      events: [],
      layout: { padding: { top: PAD_TOP, right: PAD_RIGHT, left: 0, bottom: 0 } },
      plugins: { legend: { display: false }, tooltip: { enabled: false }, title: { display: false } },
      scales: {
        x: {
          type: 'linear',
          min: xMin,
          max: xMax,
          afterBuildTicks: (s: any) => { s.ticks = spec.xTicks.map(v => ({ value: v })); },
          afterFit: (s: any) => { s.height = CH - PAD_TOP - PLOT_H; },
          ticks: {
            autoSkip: false, maxRotation: 0, minRotation: 0, padding: 5, color: TICK_TEXT, font: tickFont,
            callback: (v: any) => (spec.aspect ? aspectCats[Math.round(v) - 1] : String(v)),
          },
          grid: { display: true, drawOnChartArea: false, drawTicks: true, tickLength: 4, tickColor: '#333333', lineWidth: 1 },
          border: { display: true, color: '#000000', width: 1 },
          title: { display: true, text: spec.title, color: '#000000', font: titleFont, padding: { top: 0, bottom: 1.5 } },
        },
        y: {
          type: 'linear',
          min: yMin,
          max: yMax,
          afterBuildTicks: (s: any) => { s.ticks = yTicks.map(v => ({ value: v })); },
          afterFit: (s: any) => { s.width = Y_AXIS_W; },
          ticks: { autoSkip: false, padding: 3.5, color: TICK_TEXT, font: tickFont, callback: (v: any) => String(v) },
          grid: { display: true, drawOnChartArea: false, drawTicks: true, tickLength: 4, tickColor: '#333333', lineWidth: 1 },
          border: { display: true, color: '#000000', width: 1 },
          title: { display: true, text: yTitle, color: '#000000', font: titleFont, padding: { top: 1, bottom: 0 } },
        },
      },
    },
  };
}

function Panel({ spec, left, top }: { spec: PanelSpec; left: number; top: number }) {
  const ref = useRef<HTMLCanvasElement>(null);
  useEffect(() => {
    if (!ref.current) return;
    const chart = new Chart(ref.current, buildConfig(spec));
    return () => chart.destroy();
  }, [spec]);
  return (
    <canvas
      ref={ref}
      width={CW}
      height={CH}
      style={{ position: 'absolute', left, top, width: CW, height: CH }}
    />
  );
}

export default function App() {
  return (
    <div style={{ position: 'absolute', left: 0, top: 0, width: 827, height: 541, overflow: 'hidden', background: '#ffffff', fontFamily: FONT }}>
      <div style={{ position: 'absolute', left: 0, top: 0, width: 827, height: 28, lineHeight: '28px', textAlign: 'center', fontSize: 25, color: '#000000' }}>
        {chartTitle}
      </div>
      {panels.map((p, i) => (
        <Panel key={p.key} spec={p} left={COL_LEFTS[i % 3]} top={ROW_TOPS[Math.floor(i / 3)]} />
      ))}
    </div>
  );
}
